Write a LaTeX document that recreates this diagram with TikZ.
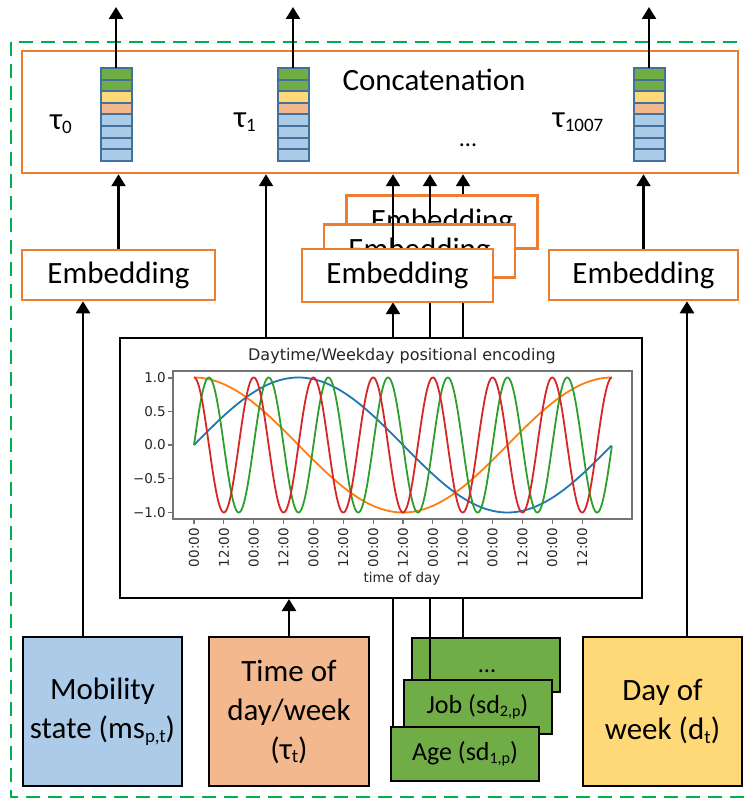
\documentclass[tikz,border=0pt]{standalone}
\usepackage{fontspec}
\setmainfont{Carlito}
\newfontfamily\plotfont{DejaVu Sans}
\usetikzlibrary{arrows.meta}
\definecolor{eorange}{HTML}{ED7D31}
\definecolor{dgreen}{HTML}{00B050}
\definecolor{cblue}{HTML}{ABCBE9}
\definecolor{corange}{HTML}{F4B88E}
\definecolor{cyellow}{HTML}{FFD878}
\definecolor{cgreen}{HTML}{70AD47}
\definecolor{vedge}{HTML}{41719C}
\definecolor{mplblue}{HTML}{1F77B4}
\definecolor{mplorange}{HTML}{FF7F0E}
\definecolor{mplgreen}{HTML}{2CA02C}
\definecolor{mplred}{HTML}{D62728}
\definecolor{mpltext}{HTML}{262626}
\newcommand\bigf{\fontsize{31}{39}\selectfont}
\newcommand\midf{\fontsize{26}{30}\selectfont}
\newcommand\lsubA[1]{\raisebox{-0.12em}{\fontsize{19}{19}\selectfont #1}}
\newcommand\lsubB[1]{\raisebox{-0.12em}{\fontsize{16}{16}\selectfont #1}}
\tikzset{
  obox/.style={draw=eorange, line width=2.5pt, fill=white, inner sep=0pt, font=\bigf},
  arr/.style={line width=2.5pt, -{Triangle[width=14pt,length=12pt]}},
  link/.style={line width=2.5pt},
  inbox/.style={draw=black, line width=2pt, inner sep=0pt, align=center, font=\bigf},
  gbox/.style={draw=black, line width=2pt, inner sep=0pt, fill=cgreen, font=\midf,
    minimum width=148pt, minimum height=54pt},
  plotframe/.style={draw=black, line width=2pt, fill=white, inner sep=0pt},
  cell/.style={draw=vedge, line width=2pt},
  vecnode/.style={minimum width=31pt, minimum height=93pt, inner sep=0pt},
  curve/.style={line width=1.8pt},
  axisline/.style={draw=black!55, line width=1.2pt},
  ticklab/.style={font=\plotfont\fontsize{13.5}{13.5}\selectfont, text=mpltext, inner sep=1pt},
  vecstack/.pic={
    \foreach \c [count=\i] in {cgreen,cgreen,cyellow,corange,cblue,cblue,cblue,cblue}
      \draw[cell,fill=\c] (-15.5,{-46.5+(\i-1)*11.625}) rectangle ++(31,11.625);
  }
}
\begin{document}
\begin{tikzpicture}[x=1pt,y=-1pt]
\useasboundingbox (0,0) rectangle (744,799);
% outer dashed frame
\draw[dgreen, line width=2.5pt, dash pattern=on 14pt off 8pt] (11,42) rectangle (752,797);

% named x positions
\coordinate (x83) at (83,0);
\coordinate (x266) at (266,0);
\coordinate (x393) at (393,0);
\coordinate (x430) at (430,0);
\coordinate (x463) at (463,0);
\coordinate (x687) at (687,0);

% bottom input boxes
\node[inbox, fill=cblue, minimum width=159pt, minimum height=149pt] (mob) at (102.5,711.5) {Mobility\\state (ms\lsubA{p,t})};
\node[inbox, fill=corange, minimum width=160pt, minimum height=149pt] (tod) at (289,711.5) {Time of\\day/week\\(τ\lsubA{t})};
\node[inbox, fill=cyellow, minimum width=159pt, minimum height=149pt] (dow) at (662.5,711.5) {Day of\\week (d\lsubA{t})};
\node[gbox] (dots) at (486,664.5) {};
\node[font=\fontsize{24}{24}\selectfont, anchor=base] at (487,672) {...};
\node[gbox] (job) at (477.5,707) {Job (sd\lsubB{2,p})};
\node[gbox] (age) at (465,754) {Age (sd\lsubB{1,p})};

% embedding boxes (geometry first for links)
\path (442,222) coordinate (c3) (419.5,251) coordinate (c2) (397.5,275.5) coordinate (c1);

% lines from static data boxes (behind plot)
\node[minimum width=191pt, minimum height=53pt, inner sep=0pt] (e3g) at (c3) {};
\node[minimum width=191pt, minimum height=53pt, inner sep=0pt] (e2g) at (c2) {};
\node[minimum width=191pt, minimum height=53pt, inner sep=0pt] (e1g) at (c1) {};
\draw[arr] (x393 |- age.north) -- (x393 |- e1g.south);
\draw[link] (x430 |- job.north) -- (x430 |- e2g.south);
\draw[link] (x463 |- dots.north) -- (x463 |- e3g.south);

% plot
\node[plotframe, minimum width=522pt, minimum height=260pt] (plot) at (381,468) {};
\node[font=\plotfont\fontsize{16}{16}\selectfont, text=mpltext] at (402,356) {Daytime/Weekday positional encoding};
\begin{scope}
  \clip (173,371) rectangle (632,519);
  \draw[mplblue,curve] plot[domain=0:1,samples=200] ({194+418*\x},{445-67.5*sin(360*\x)});
  \draw[mplorange,curve] plot[domain=0:1,samples=200] ({194+418*\x},{445-67.5*cos(360*\x)});
  \draw[mplgreen,curve] plot[domain=0:1,samples=600] ({194+418*\x},{445-67.5*sin(2520*\x)});
  \draw[mplred,curve] plot[domain=0:1,samples=600] ({194+418*\x},{445-67.5*cos(2520*\x)});
\end{scope}
\draw[axisline] (173,371) rectangle (632,519);
\foreach \yv/\yl in {378/1.0, 411.75/0.5, 445/0.0, 478.75/−0.5, 512.5/−1.0} {
  \draw[axisline] (168,\yv) -- (173,\yv);
  \node[ticklab, anchor=east] at (167,\yv) {\yl};
}
\foreach \k in {0,...,13} {
  \pgfmathsetmacro\tx{194+29.857*\k}
  \draw[axisline] (\tx,519) -- (\tx,524);
  \node[ticklab, rotate=90, anchor=east] at (\tx,527) {\ifodd\k\relax 12:00\else 00:00\fi};
}
\node[ticklab] at (402,579) {time of day};

% links into plot / from time box
\draw[arr] (tod.north) -- (tod.north |- plot.south);

% embedding boxes
\node[obox, minimum width=191pt, minimum height=53pt] (e3) at (c3) {Embedding};
\node[obox, minimum width=191pt, minimum height=53pt] (e2) at (c2) {Embedding};
\node[obox, minimum width=191pt, minimum height=53pt] (e1) at (c1) {Embedding};
\node[obox, minimum width=193pt, minimum height=50pt] (e0) at (118.5,275) {Embedding};
\node[obox, minimum width=189pt, minimum height=50pt] (e4) at (643.5,275) {Embedding};

% inputs to left / right embeddings
\draw[arr] (x83 |- mob.north) -- (x83 |- e0.south);
\draw[arr] (x687 |- dow.north) -- (x687 |- e4.south);

% concatenation
\node[obox, minimum width=716pt, minimum height=122pt] (concat) at (380,112) {};
\node[font=\bigf] at (434,80) {Concatenation};
\node[font=\bigf, anchor=base] at (61,130) {τ\lsubA{0}};
\node[font=\bigf, anchor=base] at (245,128) {τ\lsubA{1}};
\node[font=\bigf, anchor=base] at (578,128) {τ\lsubA{1007}};
\node[font=\fontsize{24}{24}\selectfont, anchor=base] at (468,147) {...};

% arrows into concatenation
\draw[arr] (e0.north) -- (e0.north |- concat.south);
\draw[arr] (x266 |- plot.north) -- (x266 |- concat.south);
\draw[arr] (x393 |- e1.north) -- (x393 |- concat.south);
\draw[arr] (x430 |- e2.north) -- (x430 |- concat.south);
\draw[arr] (x463 |- e3.north) -- (x463 |- concat.south);
\draw[arr] (e4.north) -- (e4.north |- concat.south);

% token vectors and outputs
\foreach \vx/\vn in {116/v0, 293/v1, 649/v2} {
  \pic at (\vx,114.5) {vecstack};
  \node[vecnode] (\vn) at (\vx,114.5) {};
  \coordinate (\vn top) at (\vx,7);
  \draw[arr] (\vn.north) -- (\vn top);
}
\end{tikzpicture}
\end{document}
